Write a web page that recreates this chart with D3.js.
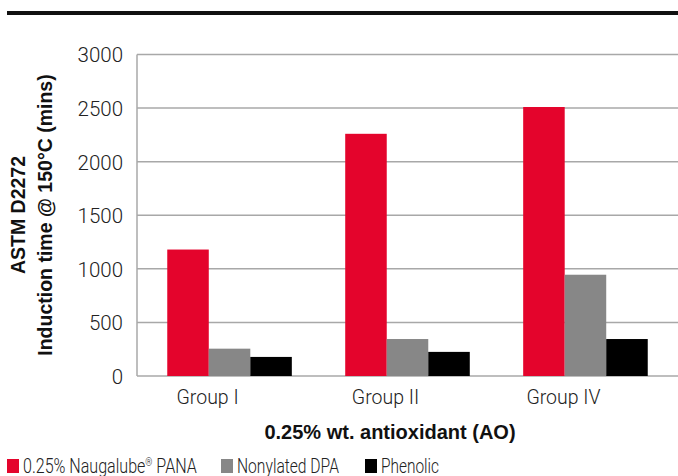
<!DOCTYPE html>
<html>
<head>
<meta charset="utf-8">
<script src="https://cdn.jsdelivr.net/npm/d3@7"></script>
<style>
  body { margin: 0; background: #fff; }
  svg { display: block; }
</style>
</head>
<body>
<svg id="chart" width="678" height="476"></svg>
<script>
const groups   = ['Group I', 'Group II', 'Group IV']
const series   = ['0.25% Naugalube® PANA', 'Nonylated DPA', 'Phenolic']
const pana     = [1180, 2260, 2510]
const dpa      = [255, 345, 945]
const phenolic = [178, 225, 345]
const yTicks   = [0, 500, 1000, 1500, 2000, 2500, 3000]
const colors   = ['#e4042c', '#878787', '#000000']

const values = [pana, dpa, phenolic]
const rows = groups.map((g, i) => ({ group: g, vals: series.map((s, j) => ({ key: s, value: values[j][i], c: colors[j] })) }))

const svg = d3.select('#chart')
const light = 'Roboto, "Liberation Sans", sans-serif'
const bold  = '"Liberation Sans", Arial, sans-serif'

// rule across the top
svg.append('rect')
    .attr('x', 7).attr('y', 11)
    .attr('width', 671).attr('height', 4)
    .attr('fill', '#111')

const plotL = 137, plotR = 678, plotT = 54.5, plotB = 376

const y = d3.scaleLinear().domain([0, 3000]).range([plotB, plotT])
const x0 = d3.scaleBand().domain(groups).range([plotL, plotR])
    .paddingInner(0.3).paddingOuter(0.17)
const x1 = d3.scaleBand().domain(series).range([0, x0.bandwidth()])

// grid
svg.append('g').selectAll('line').data(yTicks).join('line')
    .attr('x1', plotL).attr('x2', plotR)
    .attr('y1', d => y(d)).attr('y2', d => y(d))
    .attr('stroke', '#a8a8a8')
    .attr('stroke-width', 1.5)

svg.append('line')
    .attr('x1', plotL).attr('x2', plotL)
    .attr('y1', plotT).attr('y2', plotB)
    .attr('stroke', '#a8a8a8')
    .attr('stroke-width', 1.5)

// y tick labels
const yAxis = svg.append('g')
    .attr('transform', `translate(${plotL - 14},0)`)
    .call(d3.axisLeft(y).tickValues(yTicks).tickFormat(d3.format('d')).tickSize(0).tickPadding(0))
yAxis.select('.domain').remove()
yAxis.selectAll('text')
    .attr('dy', '0.36em')
    .style('font-family', light)
    .style('font-weight', 300)
    .style('font-size', '20.5px')
    .attr('fill', '#222')

// bars
svg.append('g').selectAll('g').data(rows).join('g')
    .attr('transform', d => `translate(${x0(d.group)},0)`)
    .selectAll('rect').data(d => d.vals).join('rect')
        .attr('x', d => x1(d.key))
        .attr('width', x1.bandwidth())
        .attr('y', d => y(d.value))
        .attr('height', d => y(0) - y(d.value))
        .attr('fill', d => d.c)

// x tick labels
const xAxis = svg.append('g')
    .attr('transform', `translate(0,${plotB + 9})`)
    .call(d3.axisBottom(x0).tickSize(0).tickPadding(0))
xAxis.select('.domain').remove()
xAxis.selectAll('text')
    .attr('dx', -22)
    .attr('dy', '0.95em')
    .style('font-family', light)
    .style('font-weight', 300)
    .style('font-size', '19.5px')
    .attr('fill', '#222')

// axis titles
svg.append('text')
    .attr('x', 390).attr('y', 439)
    .attr('text-anchor', 'middle')
    .style('font-family', bold)
    .style('font-weight', 'bold')
    .style('font-size', '20px')
    .attr('fill', '#111')
    .text('0.25% wt. antioxidant (AO)')

const yt = svg.append('text')
    .attr('transform', 'translate(0,215) rotate(-90)')
    .attr('text-anchor', 'middle')
    .style('font-family', bold)
    .style('font-weight', 'bold')
    .style('font-size', '19.5px')
    .attr('fill', '#111')
yt.append('tspan').attr('x', 0).attr('y', 25).text('ASTM D2272')
yt.append('tspan').attr('x', 0).attr('y', 52).text('Induction time @ 150°C (mins)')

// legend
const legendX = [7, 221, 365]
const legendW = [174, 102, 58]
const legend = svg.append('g').selectAll('g').data(series).join('g')
    .attr('transform', (d, i) => `translate(${legendX[i]},459)`)
legend.append('rect')
    .attr('width', 12).attr('height', 14)
    .attr('fill', (d, i) => colors[i])
legend.append('text')
    .attr('x', 16).attr('y', 14)
    .style('font-family', light)
    .style('font-weight', 300)
    .style('font-size', '20px')
    .attr('fill', '#222')
    .each(function (d, i) {
        const el = d3.select(this)
        if (d.includes('®')) {
            const [a, b] = d.split('®')
            el.append('tspan').text(a)
            el.append('tspan').attr('dy', -7).style('font-size', '11px').text('®')
            el.append('tspan').attr('dy', 7).text(b)
        } else {
            el.text(d)
        }
        // squeeze to the narrow face of the original
        const w = this.getComputedTextLength()
        el.attr('transform', `translate(16,0) scale(${legendW[i] / w},1) translate(-16,0)`)
    })
</script>
</body>
</html>
